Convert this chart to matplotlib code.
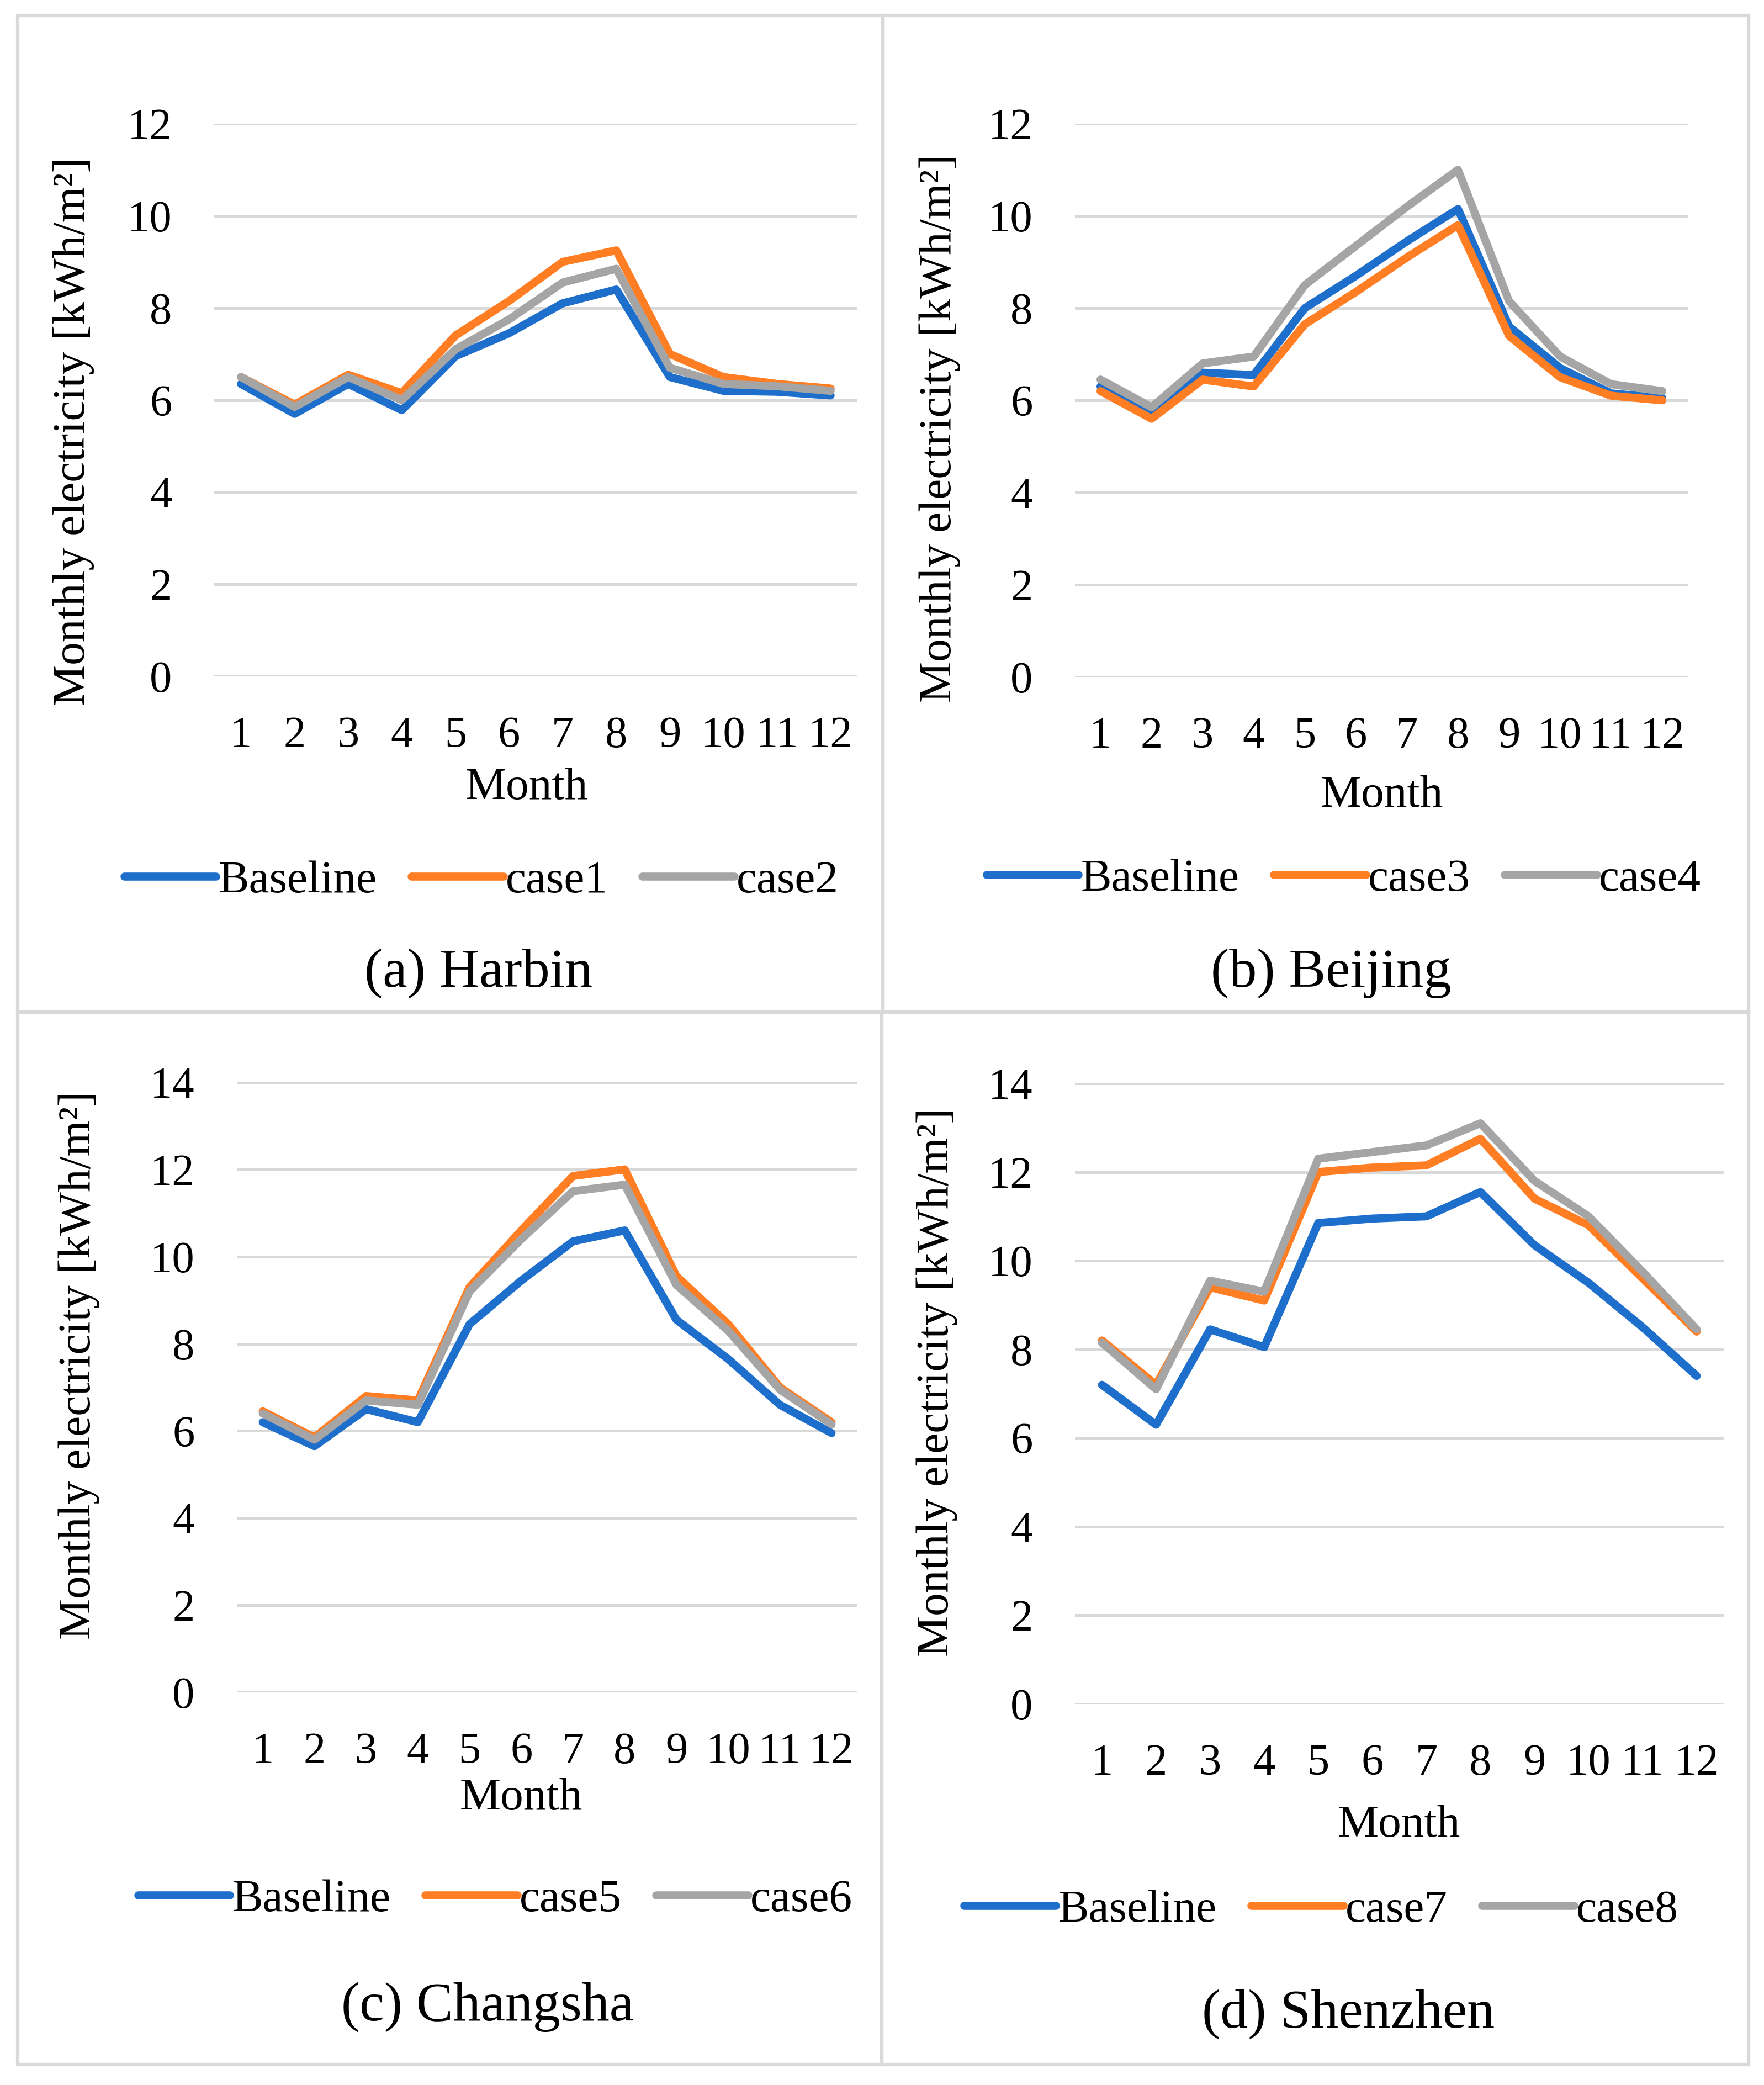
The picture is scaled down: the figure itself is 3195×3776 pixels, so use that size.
import matplotlib
matplotlib.use("Agg")
import matplotlib.pyplot as plt
from matplotlib.patches import Rectangle

# data (kWh/m2 per month)
months = [1, 2, 3, 4, 5, 6, 7, 8, 9, 10, 11, 12]
month_labels = [str(m) for m in months]

harbin_base = [6.35, 5.7, 6.35, 5.78, 6.95, 7.45, 8.1, 8.4, 6.5, 6.2, 6.18, 6.1]
harbin_case1 = [6.5, 5.9, 6.55, 6.15, 7.4, 8.15, 9.0, 9.25, 7.0, 6.5, 6.35, 6.25]
harbin_case2 = [6.5, 5.85, 6.5, 6.0, 7.1, 7.75, 8.55, 8.85, 6.7, 6.35, 6.3, 6.2]

beijing_base = [6.3, 5.7, 6.6, 6.55, 8.0, 8.7, 9.45, 10.15, 7.6, 6.7, 6.15, 6.05]
beijing_case3 = [6.2, 5.6, 6.45, 6.3, 7.65, 8.35, 9.1, 9.8, 7.4, 6.5, 6.1, 6.0]
beijing_case4 = [6.45, 5.85, 6.8, 6.95, 8.5, 9.35, 10.2, 11.0, 8.15, 6.95, 6.35, 6.2]

changsha_base = [6.2, 5.65, 6.5, 6.2, 8.45, 9.45, 10.35, 10.6, 8.55, 7.65, 6.6, 5.95]
changsha_case5 = [6.45, 5.85, 6.8, 6.7, 9.3, 10.6, 11.85, 12.0, 9.55, 8.45, 7.0, 6.2]
changsha_case6 = [6.4, 5.8, 6.7, 6.6, 9.2, 10.4, 11.5, 11.65, 9.35, 8.3, 6.95, 6.15]

shenzhen_base = [7.2, 6.3, 8.45, 8.05, 10.85, 10.95, 11.0, 11.55, 10.35, 9.5, 8.5, 7.4]
shenzhen_case7 = [8.2, 7.2, 9.4, 9.1, 12.0, 12.1, 12.15, 12.75, 11.4, 10.8, 9.6, 8.4]
shenzhen_case8 = [8.15, 7.1, 9.55, 9.3, 12.3, 12.45, 12.6, 13.1, 11.8, 11.0, 9.75, 8.45]

W, H = 3195, 3776
DPI = 100
plt.rcParams['font.family'] = ['Liberation Serif', 'DejaVu Serif']

colors = ['#1E6ECC', '#FF7D23', '#A5A5A5']
grid_color = '#D9D9D9'

fig = plt.figure(figsize=(W / DPI, H / DPI), dpi=DPI)


def fx(x):
    return x / W


def fy(y):
    return 1 - y / H


# panel frames
for (l, t, r, b) in [(32, 28, 1599, 1833), (1599, 28, 3167, 1833),
                     (32, 1833, 1597, 3739), (1597, 1833, 3167, 3739)]:
    fig.patches.append(Rectangle((fx(l), fy(b)), fx(r - l), (b - t) / H,
                                 transform=fig.transFigure, fill=False,
                                 edgecolor=grid_color, linewidth=4.5))

panels = [
    # series, labels, ymax, axes box, ylabel pos, Month pos, legend pos, title pos, title
    ([harbin_base, harbin_case1, harbin_case2], ['Baseline', 'case1', 'case2'], 12,
     (388, 224, 1553, 1225), (133, 781), (954, 1427), (872, 1596), (867, 1763), '(a) Harbin'),
    ([beijing_base, beijing_case3, beijing_case4], ['Baseline', 'case3', 'case4'], 12,
     (1947, 224, 3057, 1226), (1702, 775), (2503, 1441), (2434, 1593), (2411, 1763), '(b) Beijing'),
    ([changsha_base, changsha_case5, changsha_case6], ['Baseline', 'case5', 'case6'], 14,
     (429, 1960, 1553, 3065), (143, 2472), (944, 3257), (897, 3441), (883, 3635), '(c) Changsha'),
    ([shenzhen_base, shenzhen_case7, shenzhen_case8], ['Baseline', 'case7', 'case8'], 14,
     (1947, 1962, 3122, 3086), (1697, 2503), (2534, 3306), (2393, 3460), (2442, 3648), '(d) Shenzhen'),
]

for series, labels, ymax, box, ylab, mlab, legpos, tpos, title in panels:
    l, t, r, b = box
    ax = fig.add_axes([fx(l), fy(b), fx(r - l), (b - t) / H])
    handles = []
    for vals, lab, c in zip(series, labels, colors):
        h, = ax.plot(months, vals, color=c, linewidth=10.5, label=lab,
                     solid_joinstyle='round', solid_capstyle='round')
        handles.append(h)
    ax.set_xlim(0.5, 12.5)
    ax.set_ylim(0, ymax)
    ax.set_yticks(range(0, ymax + 1, 2))
    ax.set_xticks(months)
    ax.set_xticklabels(month_labels)
    ax.yaxis.grid(True, color=grid_color, linewidth=3.6)
    ax.set_axisbelow(True)
    for s in ax.spines.values():
        s.set_visible(False)
    ax.tick_params(axis='y', length=0, pad=55, labelsize=58)
    ax.tick_params(axis='x', length=0, pad=52, labelsize=58)

    fig.text(fx(ylab[0]), fy(ylab[1]), 'Monthly electricity [kWh/m²]', rotation=90,
             ha='center', va='center', fontsize=60)
    fig.text(fx(mlab[0]), fy(mlab[1]), 'Month', ha='center', va='center', fontsize=60)
    fig.text(fx(tpos[0]), fy(tpos[1]), title, ha='center', va='center', fontsize=72)
    ax.legend(handles, labels, loc='center', bbox_to_anchor=(fx(legpos[0]), fy(legpos[1])),
              bbox_transform=fig.transFigure, ncol=3, frameon=False, fontsize=60,
              handlelength=2.0, handletextpad=0.05, columnspacing=0.75,
              borderpad=0, borderaxespad=0)

fig.savefig('out.png', dpi=DPI, facecolor='white')
